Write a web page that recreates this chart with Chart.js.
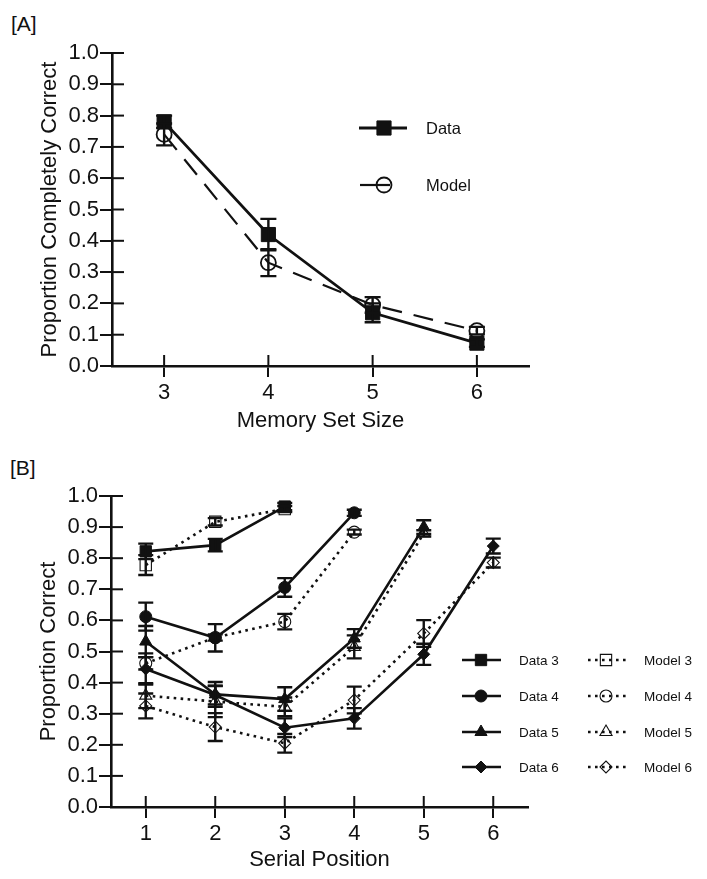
<!DOCTYPE html>
<html><head><meta charset="utf-8">
<script src="https://cdn.jsdelivr.net/npm/chart.js@4.4.0/dist/chart.umd.min.js"></script>
<style>
html,body{margin:0;padding:0;background:#fff;width:707px;height:879px;overflow:hidden;}
.lbl{position:absolute;font-family:"Liberation Sans",Arial,sans-serif;font-size:21px;line-height:21px;color:#111;}
#wa{position:absolute;left:0;top:0;width:707px;height:440px;}
#wb{position:absolute;left:0;top:440px;width:707px;height:439px;}
</style></head><body>
<div class="lbl" style="left:11px;top:13px">[A]</div>
<div class="lbl" style="left:10px;top:457px">[B]</div>
<div id="wa"><canvas id="ca" width="707" height="440"></canvas></div>
<div id="wb"><canvas id="cb" width="707" height="439"></canvas></div>
<script>
// ---------- data ----------
const yTicks = [0, 0.1, 0.2, 0.3, 0.4, 0.5, 0.6, 0.7, 0.8, 0.9, 1.0];

// Panel A
const setSizes = [3, 4, 5, 6];
const dataA = [0.78, 0.42, 0.17, 0.073];
const errDataA = [0.02, 0.05, 0.03, 0.012];
const modelA = [0.74, 0.33, 0.195, 0.113];
const errModelA = [0.035, 0.043, 0.025, 0.012];

// Panel B
const positions = [1, 2, 3, 4, 5, 6];
const data3 = [0.822, 0.842, 0.966];
const errData3 = [0.025, 0.02, 0.012];
const model3 = [0.778, 0.917, 0.958];
const errModel3 = [0.032, 0.012, 0.01];
const data4 = [0.612, 0.544, 0.706, 0.946];
const errData4 = [0.045, 0.044, 0.03, 0.01];
const model4 = [0.462, 0.545, 0.596, 0.884];
const errModel4 = [0.02, 0.01, 0.025, 0.008];
const data5 = [0.532, 0.362, 0.347, 0.542, 0.90];
const errData5 = [0.05, 0.04, 0.038, 0.03, 0.022];
const model5 = [0.358, 0.339, 0.322, 0.515, 0.88];
const errModel5 = [0.04, 0.05, 0.03, 0.037, 0.01];
const data6 = [0.444, 0.36, 0.255, 0.285, 0.491, 0.839];
const errData6 = [0.05, 0.03, 0.03, 0.033, 0.034, 0.024];
const model6 = [0.325, 0.257, 0.205, 0.344, 0.558, 0.786];
const errModel6 = [0.04, 0.045, 0.03, 0.043, 0.043, 0.016];

// ---------- helpers ----------
const FONT = '"Liberation Sans", Arial, Helvetica, sans-serif';
const INK = '#111';
const pts = (xs, ys) => ys.map((v, i) => ({x: xs[i], y: v}));

function drawMarker(ctx, style, r, x, y, fill, stroke, bw) {
  ctx.save();
  ctx.setLineDash([]);
  ctx.fillStyle = fill; ctx.strokeStyle = stroke; ctx.lineWidth = bw;
  if (Chart.helpers && Chart.helpers.drawPoint) {
    Chart.helpers.drawPoint(ctx, {pointStyle: style, radius: r, rotation: 0, borderWidth: bw}, x, y);
  }
  ctx.restore();
}

const inTicks = {
  id: 'inTicks',
  beforeDatasetsDraw(chart) {
    const {ctx, chartArea: a, scales: {x, y}} = chart;
    ctx.save(); ctx.strokeStyle = INK; ctx.lineWidth = 2;
    x.ticks.forEach(t => { const px = x.getPixelForValue(t.value); ctx.beginPath(); ctx.moveTo(px, a.bottom); ctx.lineTo(px, a.bottom - 11); ctx.stroke(); });
    y.ticks.forEach(t => { const py = y.getPixelForValue(t.value); ctx.beginPath(); ctx.moveTo(a.left, py); ctx.lineTo(a.left + 12, py); ctx.stroke(); });
    ctx.restore();
  }
};

const errBars = {
  id: 'errBars',
  afterDatasetsDraw(chart, args, opts) {
    const {ctx, scales: {x, y}} = chart;
    const hw = opts.cap || 8;
    ctx.save(); ctx.strokeStyle = INK; ctx.lineWidth = opts.width || 2.4; ctx.setLineDash([]);
    chart.data.datasets.forEach(ds => {
      if (!ds.errors) return;
      ds.data.forEach((p, i) => {
        const e = ds.errors[i];
        const px = x.getPixelForValue(p.x);
        const y1 = y.getPixelForValue(p.y + e), y2 = y.getPixelForValue(p.y - e);
        ctx.beginPath();
        ctx.moveTo(px, y1); ctx.lineTo(px, y2);
        ctx.moveTo(px - hw, y1); ctx.lineTo(px + hw, y1);
        ctx.moveTo(px - hw, y2); ctx.lineTo(px + hw, y2);
        ctx.stroke();
      });
    });
    ctx.restore();
  }
};

const customLegend = {
  id: 'customLegend',
  afterDraw(chart, args, opts) {
    const {ctx} = chart;
    (opts.items || []).forEach(it => {
      const ds = chart.data.datasets[it.ds];
      ctx.save();
      ctx.strokeStyle = INK; ctx.lineWidth = ds.borderWidth;
      ctx.setLineDash(it.dash || []);
      ctx.lineCap = ds.borderCapStyle || 'butt';
      ctx.beginPath(); ctx.moveTo(it.x1, it.y); ctx.lineTo(it.x2, it.y); ctx.stroke();
      ctx.restore();
      drawMarker(ctx, ds.pointStyle, ds.pointRadius, it.mx, it.y, ds.pointBackgroundColor, ds.pointBorderColor, ds.pointBorderWidth);
      ctx.save();
      ctx.fillStyle = INK; ctx.font = opts.font; ctx.textBaseline = 'middle'; ctx.textAlign = 'left';
      ctx.fillText(ds.label, it.tx, it.y + 1);
      ctx.restore();
    });
  }
};

function scales(xmin, xmax, xTickVals, xTitle, yTitle, xH) {
  return {
    x: {
      type: 'linear', min: xmin, max: xmax,
      afterBuildTicks: s => { s.ticks = xTickVals.map(v => ({value: v})); },
      afterFit: s => { s.height = xH; },
      grid: {drawOnChartArea: false, drawTicks: true, tickLength: 11, lineWidth: 2, color: INK},
      border: {display: true, width: 2.6, color: INK},
      ticks: {color: INK, font: {family: FONT, size: 22}, padding: 3, maxRotation: 0, autoSkip: false, callback: v => String(v)},
      title: {display: true, text: xTitle, color: INK, font: {family: FONT, size: 22}, padding: {top: 0, bottom: 6}}
    },
    y: {
      type: 'linear', min: 0, max: 1,
      afterBuildTicks: s => { s.ticks = yTicks.map(v => ({value: v})); },
      afterFit: s => { s.width = 112; },
      grid: {drawOnChartArea: false, drawTicks: true, tickLength: 12, lineWidth: 2, color: INK},
      border: {display: true, width: 2.6, color: INK},
      ticks: {color: INK, font: {family: FONT, size: 22}, padding: 1, autoSkip: false, callback: v => Number(v).toFixed(1)},
      title: {display: true, text: yTitle, color: INK, font: {family: FONT, size: 22}, padding: {top: 37, bottom: 0}}
    }
  };
}

const base = {
  responsive: false, animation: false, devicePixelRatio: 1,
  plugins: {legend: {display: false}, tooltip: {enabled: false}},
};

// ---------- Chart A ----------
new Chart(document.getElementById('ca'), {
  type: 'line',
  data: {datasets: [
    {label: 'Data', data: pts(setSizes, dataA), errors: errDataA, borderColor: INK, borderWidth: 2.8,
     pointStyle: 'rect', pointRadius: 10, pointBackgroundColor: INK, pointBorderColor: INK, pointBorderWidth: 1, tension: 0},
    {label: 'Model', data: pts(setSizes, modelA), errors: errModelA, borderColor: INK, borderWidth: 2.2, borderDash: [20, 12],
     pointStyle: 'circle', pointRadius: 7.5, pointBackgroundColor: 'rgba(255,255,255,0)', pointBorderColor: INK, pointBorderWidth: 1.8, tension: 0}
  ]},
  options: Object.assign({}, base, {
    layout: {padding: {left: 0, top: 53, right: 178, bottom: 0}},
    scales: scales(2.5, 6.5, setSizes, 'Memory Set Size', 'Proportion Completely Correct', 74),
    plugins: Object.assign({}, base.plugins, {
      errBars: {cap: 8, width: 2.4},
      customLegend: {font: '16.5px ' + FONT, items: [
        {ds: 0, x1: 359, x2: 407, mx: 384, y: 128, tx: 426},
        {ds: 1, x1: 360, x2: 390, mx: 384, y: 185, tx: 426, dash: []}
      ]}
    })
  }),
  plugins: [inTicks, errBars, customLegend]
});

// ---------- Chart B ----------
const dataStyle = (label, ys, errs, style, r) => ({label, data: pts(positions, ys), errors: errs, borderColor: INK, borderWidth: 2.6,
  pointStyle: style, pointRadius: r, pointBackgroundColor: INK, pointBorderColor: INK, pointBorderWidth: 1, tension: 0});
const modelStyle = (label, ys, errs, style, r) => ({label, data: pts(positions, ys), errors: errs, borderColor: INK, borderWidth: 2.6,
  borderDash: [2.6, 4.4], pointStyle: style, pointRadius: r, pointBackgroundColor: 'rgba(255,255,255,0)', pointBorderColor: INK, pointBorderWidth: 1.1, tension: 0});

const rowsB = [220, 256, 292, 327];
new Chart(document.getElementById('cb'), {
  type: 'line',
  data: {datasets: [
    dataStyle('Data 3', data3, errData3, 'rect', 8),
    dataStyle('Data 4', data4, errData4, 'circle', 6),
    dataStyle('Data 5', data5, errData5, 'triangle', 7),
    dataStyle('Data 6', data6, errData6, 'rectRot', 6),
    modelStyle('Model 3', model3, errModel3, 'rect', 8),
    modelStyle('Model 4', model4, errModel4, 'circle', 6),
    modelStyle('Model 5', model5, errModel5, 'triangle', 7),
    modelStyle('Model 6', model6, errModel6, 'rectRot', 6)
  ]},
  options: Object.assign({}, base, {
    layout: {padding: {left: -1, top: 56, right: 179, bottom: 0}},
    scales: scales(0.5, 6.5, positions, 'Serial Position', 'Proportion Correct', 72),
    plugins: Object.assign({}, base.plugins, {
      errBars: {cap: 7.5, width: 2.4},
      customLegend: {font: '13.5px ' + FONT, items: [
        {ds: 0, x1: 462, x2: 501, mx: 481, y: rowsB[0], tx: 519},
        {ds: 1, x1: 462, x2: 501, mx: 481, y: rowsB[1], tx: 519},
        {ds: 2, x1: 462, x2: 501, mx: 481, y: rowsB[2], tx: 519},
        {ds: 3, x1: 462, x2: 501, mx: 481, y: rowsB[3], tx: 519},
        {ds: 4, x1: 588, x2: 626, mx: 606, y: rowsB[0], tx: 644, dash: [2.6, 4.4]},
        {ds: 5, x1: 588, x2: 626, mx: 606, y: rowsB[1], tx: 644, dash: [2.6, 4.4]},
        {ds: 6, x1: 588, x2: 626, mx: 606, y: rowsB[2], tx: 644, dash: [2.6, 4.4]},
        {ds: 7, x1: 588, x2: 626, mx: 606, y: rowsB[3], tx: 644, dash: [2.6, 4.4]}
      ]}
    })
  }),
  plugins: [inTicks, errBars, customLegend]
});
</script>
</body></html>
